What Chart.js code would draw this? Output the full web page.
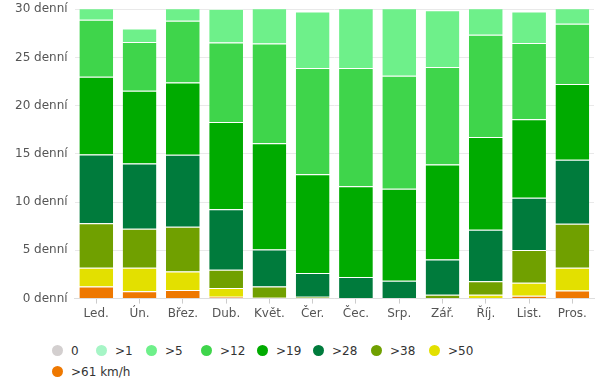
<!DOCTYPE html>
<html>
<head>
<meta charset="utf-8">
<script src="https://cdn.jsdelivr.net/npm/chart.js@4.4.1/dist/chart.umd.min.js"></script>
<style>
    body { margin: 0; background: #fff; }
    #wrap { position: relative; width: 605px; height: 380px; overflow: hidden; }
    #chartBox { position: absolute; left: 0; top: -5px; width: 605px; height: 335px; }
    #legend {
        position: absolute; left: 52px; top: 340px; width: 440px;
        display: flex; flex-wrap: wrap;
        font: 12px "DejaVu Sans", sans-serif; color: #333;
    }
    .legend-item { display: flex; align-items: center; height: 21px; white-space: nowrap; }
    .legend-dot { width: 11px; height: 11px; border-radius: 50%; margin-right: 8px; flex: none; }
</style>
</head>
<body>
<div id="wrap">
    <div id="chartBox"><canvas id="windChart"></canvas></div>
    <div id="legend"></div>
</div>
<script>
// Months (x categories)
const months = ['Led.', 'Ún.', 'Břez.', 'Dub.', 'Květ.', 'Čer.', 'Čec.', 'Srp.', 'Zář.', 'Říj.', 'List.', 'Pros.'];

// y axis
const yTicks = [0, 5, 10, 15, 20, 25, 30];
const yUnit = 'denní';

// Days per month in each wind class (km/h)
const calm  = [0, 0, 0, 0, 0, 0, 0, 0, 0, 0, 0, 0];
const gt1   = [0, 0, 0, 0, 0, 0, 0, 0, 0, 0, 0, 0];
const gt5   = [2.1, 1.4, 2.2, 3.5, 4.5, 5.85, 7.1, 7.9, 5.9, 4.8, 3.25, 2.5];
const gt12  = [5.9, 5.05, 6.4, 8.25, 10.35, 11.0, 12.25, 11.7, 10.1, 10.6, 7.9, 6.25];
const gt19  = [8.05, 7.55, 7.5, 9.05, 11.0, 10.25, 9.4, 9.55, 9.85, 9.6, 8.15, 7.85];
const gt28  = [7.15, 6.75, 7.45, 6.25, 3.85, 2.45, 2.2, 1.85, 3.65, 5.35, 5.4, 6.65];
const gt38  = [4.6, 4.05, 4.65, 1.9, 1.15, 0.2, 0.05, 0, 0.4, 1.4, 3.4, 4.55];
const gt50  = [1.95, 2.45, 1.9, 0.9, 0.1, 0, 0, 0, 0, 0.4, 1.35, 2.35];
const gt61  = [1.25, 0.75, 0.9, 0.2, 0, 0, 0, 0, 0, 0, 0.3, 0.85];

const classLabels = ['0', '>1', '>5', '>12', '>19', '>28', '>38', '>50', '>61 km/h'];
const classColors = ['#d3cfcf', '#a6f5c6', '#6ef08a', '#3fd54b', '#00ab00', '#007b3c', '#70a000', '#e3e000', '#ee7800'];
const classData   = [calm, gt1, gt5, gt12, gt19, gt28, gt38, gt50, gt61];

// legend item widths (px) so the dots sit where the original puts them
const legendItemWidths = [44, 50, 55, 56, 56, 58, 58, 58, 100];

const fontFamily = '"DejaVu Sans", sans-serif';

// Stack from the strongest wind at the bottom up to calm on top
const datasets = [];
for (let i = classData.length - 1; i >= 0; i--) {
    datasets.push({
        label: classLabels[i],
        data: classData[i],
        backgroundColor: classColors[i],
        borderColor: '#ffffff',
        borderWidth: { top: 1, left: 0, right: 0, bottom: 0 },
        borderSkipped: false,
        categoryPercentage: 1.0,
        barPercentage: 0.78
    });
}

// HTML legend
const legendEl = document.getElementById('legend');
classLabels.forEach((label, i) => {
    const item = document.createElement('div');
    item.className = 'legend-item';
    item.style.width = legendItemWidths[i] + 'px';
    const dot = document.createElement('span');
    dot.className = 'legend-dot';
    dot.style.background = classColors[i];
    const txt = document.createElement('span');
    txt.textContent = label;
    item.appendChild(dot);
    item.appendChild(txt);
    legendEl.appendChild(item);
});

const ctx = document.getElementById('windChart').getContext('2d');
new Chart(ctx, {
    type: 'bar',
    data: { labels: months, datasets: datasets },
    options: {
        responsive: true,
        maintainAspectRatio: false,
        animation: false,
        layout: { padding: { left: 8, right: 11, top: 0, bottom: 6 } },
        plugins: {
            legend: { display: false },
            tooltip: { enabled: false }
        },
        scales: {
            x: {
                stacked: true,
                grid: { offset: false, drawOnChartArea: false, tickLength: 5, color: '#cccccc' },
                border: { color: '#dddddd' },
                ticks: { color: '#555', padding: 3, font: { size: 12, family: fontFamily } }
            },
            y: {
                stacked: true,
                min: yTicks[0],
                max: yTicks[yTicks.length - 1],
                afterBuildTicks: axis => { axis.ticks = yTicks.map(v => ({ value: v })); },
                grid: { color: '#e9e9e9', drawTicks: false },
                border: { display: false },
                ticks: {
                    color: '#555',
                    padding: 7,
                    font: { size: 12, family: fontFamily },
                    callback: v => v + ' ' + yUnit
                }
            }
        }
    }
});
</script>
</body>
</html>
